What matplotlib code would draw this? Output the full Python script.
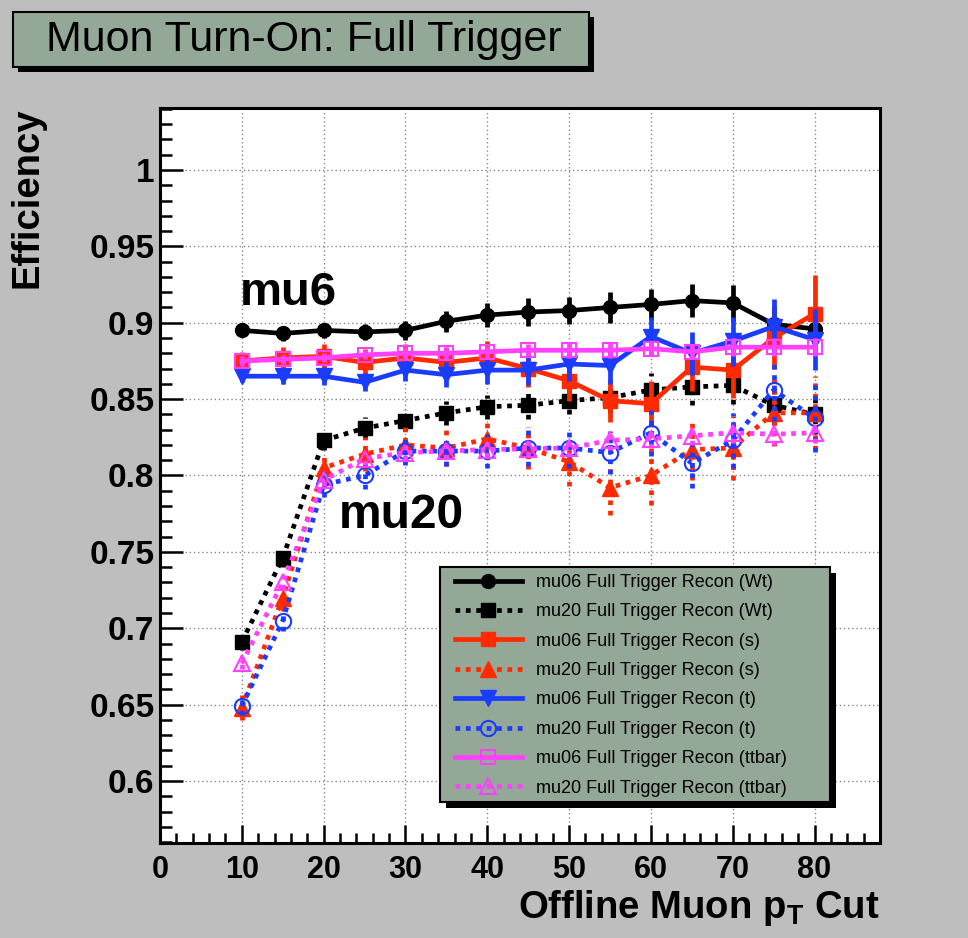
import matplotlib
matplotlib.use("Agg")
import matplotlib.pyplot as plt
from matplotlib.patches import Rectangle
from matplotlib.ticker import MultipleLocator, FixedLocator, FixedFormatter

plt.rcParams['font.family'] = ['Liberation Sans', 'DejaVu Sans']
plt.rcParams['mathtext.fontset'] = 'custom'
plt.rcParams['mathtext.rm'] = 'Liberation Sans'
plt.rcParams['mathtext.bf'] = 'Liberation Sans:bold'

# ---------------- data ----------------
pt_cut = [10, 15, 20, 25, 30, 35, 40, 45, 50, 55, 60, 65, 70, 75, 80]

wt06 = [0.895, 0.893, 0.895, 0.894, 0.895, 0.901, 0.905, 0.907, 0.908, 0.910, 0.912, 0.9145, 0.913, 0.899, 0.896]
wt20 = [0.691, 0.746, 0.823, 0.831, 0.836, 0.841, 0.845, 0.846, 0.849, 0.851, 0.856, 0.858, 0.859, 0.846, 0.840]
s06 = [0.875, 0.877, 0.878, 0.874, 0.877, 0.874, 0.877, 0.870, 0.862, 0.849, 0.847, 0.871, 0.869, 0.890, 0.906]
s20 = [0.648, 0.720, 0.805, 0.814, 0.820, 0.818, 0.824, 0.818, 0.809, 0.792, 0.800, 0.817, 0.818, 0.841, 0.841]
t06 = [0.865, 0.865, 0.865, 0.861, 0.869, 0.866, 0.869, 0.869, 0.873, 0.872, 0.891, 0.880, 0.888, 0.8975, 0.889]
t20 = [0.649, 0.705, 0.794, 0.800, 0.816, 0.816, 0.816, 0.818, 0.818, 0.815, 0.828, 0.808, 0.823, 0.856, 0.8375]
tt06 = [0.875, 0.876, 0.877, 0.879, 0.880, 0.880, 0.881, 0.882, 0.882, 0.882, 0.883, 0.881, 0.884, 0.884, 0.884]
tt20 = [0.677, 0.730, 0.797, 0.811, 0.815, 0.816, 0.817, 0.8175, 0.818, 0.823, 0.824, 0.826, 0.828, 0.827, 0.828]

e_wt06 = [0.003, 0.005, 0.005, 0.005, 0.006, 0.007, 0.008, 0.009, 0.009, 0.010, 0.010, 0.011, 0.012, 0.012, 0.012]
e_wt20 = [0.005, 0.006, 0.006, 0.007, 0.007, 0.008, 0.008, 0.009, 0.009, 0.010, 0.011, 0.012, 0.012, 0.013, 0.013]
e_s06 = [0.006, 0.007, 0.008, 0.009, 0.009, 0.010, 0.011, 0.012, 0.013, 0.014, 0.015, 0.016, 0.018, 0.020, 0.025]
e_s20 = [0.008, 0.009, 0.010, 0.011, 0.012, 0.012, 0.013, 0.014, 0.016, 0.018, 0.019, 0.020, 0.021, 0.022, 0.024]
e_t06 = [0.004, 0.005, 0.006, 0.006, 0.007, 0.008, 0.009, 0.010, 0.011, 0.012, 0.013, 0.014, 0.016, 0.018, 0.020]
e_t20 = [0.006, 0.007, 0.008, 0.009, 0.009, 0.010, 0.011, 0.012, 0.013, 0.014, 0.015, 0.016, 0.018, 0.020, 0.022]
e_tt06 = [0.003, 0.003, 0.003, 0.003, 0.004, 0.004, 0.004, 0.004, 0.005, 0.005, 0.005, 0.005, 0.006, 0.006, 0.006]
e_tt20 = [0.004, 0.004, 0.004, 0.004, 0.005, 0.005, 0.005, 0.005, 0.006, 0.006, 0.006, 0.006, 0.007, 0.007, 0.007]

labels = ["mu06 Full Trigger Recon (Wt)", "mu20 Full Trigger Recon (Wt)",
          "mu06 Full Trigger Recon (s)", "mu20 Full Trigger Recon (s)",
          "mu06 Full Trigger Recon (t)", "mu20 Full Trigger Recon (t)",
          "mu06 Full Trigger Recon (ttbar)", "mu20 Full Trigger Recon (ttbar)"]

y_ticks = [0.6, 0.65, 0.7, 0.75, 0.8, 0.85, 0.9, 0.95, 1.0]
y_ticklabels = ["0.6", "0.65", "0.7", "0.75", "0.8", "0.85", "0.9", "0.95", "1"]
x_ticks = [0, 10, 20, 30, 40, 50, 60, 70, 80]

BLACK = '#000000'
RED = '#ff2a00'
BLUE = '#1a3cff'
MAG = '#ff40ff'
BG = '#bebebe'
BOXC = '#94a898'
DOT = (0, (1, 1.2))

series = [
    (wt06, e_wt06, BLACK, '-', 'o', BLACK, 10),
    (wt20, e_wt20, BLACK, DOT, 's', BLACK, 10.5),
    (s06, e_s06, RED, '-', 's', RED, 10.5),
    (s20, e_s20, RED, DOT, '^', RED, 11),
    (t06, e_t06, BLUE, '-', 'v', BLUE, 11),
    (t20, e_t20, BLUE, DOT, 'o', 'none', 11),
    (tt06, e_tt06, MAG, '-', 's', 'none', 10.5),
    (tt20, e_tt20, MAG, DOT, '^', 'none', 11),
]

W, H = 968, 938
fig = plt.figure(figsize=(W / 100, H / 100), dpi=100, facecolor=BG)
ax = fig.add_axes([160 / W, 1 - 843 / H, 720 / W, 735 / H])
ax.set_facecolor('white')

handles = []
for i, (vals, errs, col, ls, mk, mfc, ms) in enumerate(series):
    eb = ax.errorbar(pt_cut, vals, yerr=errs, fmt='none', ecolor=col,
                     elinewidth=3.4, capsize=0, zorder=2 + i * 0.1)
    for lc in eb[2]:
        lc.set_linestyle(ls)
    ln, = ax.plot(pt_cut, vals, color=col, linestyle=ls, linewidth=3.4,
                  marker=mk, markersize=ms, markerfacecolor=mfc,
                  markeredgecolor=col, markeredgewidth=1.5 if mfc == 'none' else 1.0,
                  zorder=2.05 + i * 0.1)
    handles.append(ln)

ax.set_xlim(0, 88)
ax.set_ylim(0.5594, 1.0406)
ax.xaxis.set_major_locator(FixedLocator(x_ticks))
ax.xaxis.set_minor_locator(MultipleLocator(2))
ax.yaxis.set_major_locator(FixedLocator(y_ticks))
ax.yaxis.set_major_formatter(FixedFormatter(y_ticklabels))
ax.yaxis.set_minor_locator(MultipleLocator(0.01))
ax.tick_params(axis='y', which='major', direction='in', length=16.5, width=1.8, pad=4,
               labelsize=24, right=False)
ax.tick_params(axis='y', which='minor', direction='in', length=8.5, width=1.8, right=False)
ax.tick_params(axis='x', which='major', direction='in', length=13, width=1.8, pad=9,
               labelsize=22, top=False)
ax.tick_params(axis='x', which='minor', direction='in', length=7, width=1.8, top=False)
for lab in ax.get_xticklabels() + ax.get_yticklabels():
    lab.set_fontweight('bold')

ax.grid(True, which='major', linestyle=(0, (1, 2)), color='#888888', linewidth=1.0)
ax.set_axisbelow(True)
for s in ax.spines.values():
    s.set_linewidth(2.2)
    s.set_color('black')

# annotations
ax.text(9.8, 0.9117, "mu6", fontsize=34, fontweight='bold', ha='left', va='baseline', zorder=4)
ax.text(21.9, 0.7657, "mu20", fontsize=34.5, fontweight='bold', ha='left', va='baseline', zorder=4)

# legend box with shadow
ax.add_patch(Rectangle(((446 - 160) / 720, (843 - 808) / 735), 390 / 720, 235 / 735,
                       transform=ax.transAxes, facecolor='black', edgecolor='none', zorder=8))
ax.add_patch(Rectangle(((440 - 160) / 720, (843 - 802) / 735), 390 / 720, 235 / 735,
                       transform=ax.transAxes, facecolor=BOXC, edgecolor='black',
                       linewidth=1.5, zorder=8.5))
leg = ax.legend(handles, labels, loc='upper left',
                bbox_to_anchor=((455 - 160) / 720, (843 - 574) / 735),
                frameon=False, fontsize=13, handlelength=3.7, handletextpad=0.8,
                labelspacing=0.685, borderaxespad=0, borderpad=0, numpoints=1)
leg.set_zorder(9)

# title box with shadow
fig.patches.append(Rectangle((18 / W, 1 - 72 / H), 576 / W, 55 / H, transform=fig.transFigure,
                             facecolor='black', edgecolor='none', zorder=1))
fig.patches.append(Rectangle((13 / W, 1 - 67 / H), 576 / W, 55 / H, transform=fig.transFigure,
                             facecolor=BOXC, edgecolor='black', linewidth=1.5, zorder=2))
fig.text(304 / W, 1 - 40 / H, "Muon Turn-On: Full Trigger", fontsize=31,
         ha='center', va='center', zorder=3)

# axis labels
fig.text(28 / W, 1 - 107 / H, "Efficiency", rotation=90, fontsize=27.5, fontweight='bold',
         ha='center', va='top')
fig.text(879 / W, 1 - 918 / H, r"Offline Muon p$_\mathbf{T}$ Cut", fontsize=27.5,
         fontweight='bold', ha='right', va='baseline')

fig.savefig("out.png", dpi=100, facecolor=BG)
